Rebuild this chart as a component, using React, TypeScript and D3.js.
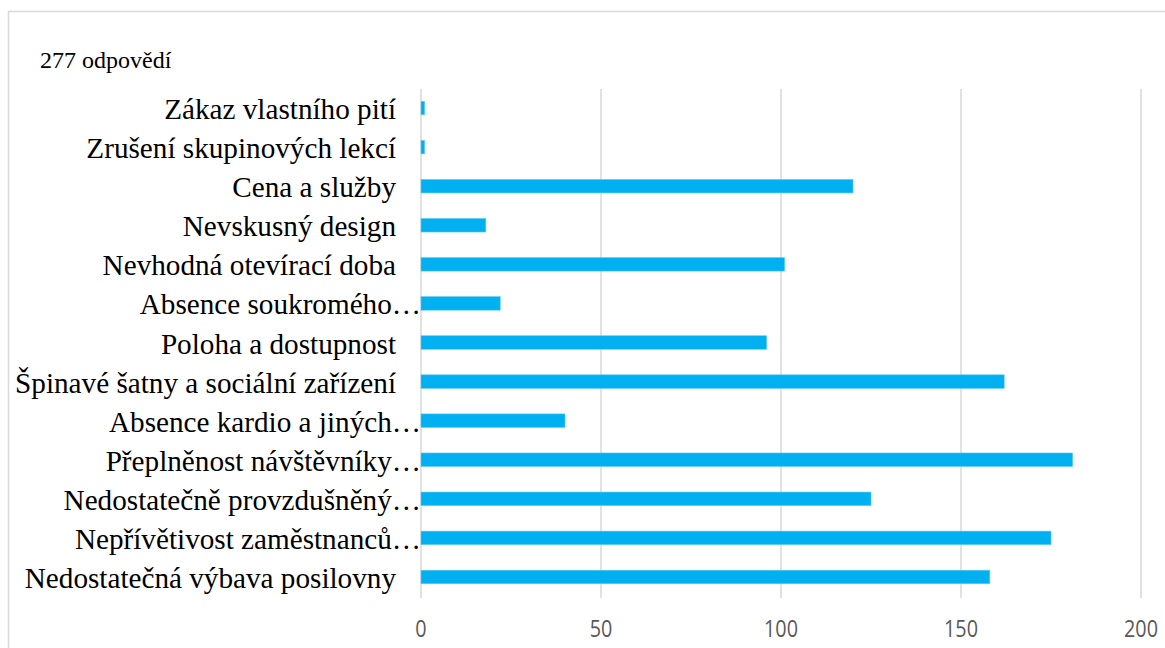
import React from "react";
import * as d3 from "d3";

const categories = [
  "Zákaz vlastního pití",
  "Zrušení skupinových lekcí",
  "Cena a služby",
  "Nevskusný design",
  "Nevhodná otevírací doba",
  "Absence soukromého…",
  "Poloha a dostupnost",
  "Špinavé šatny a sociální zařízení",
  "Absence kardio a jiných…",
  "Přeplněnost návštěvníky…",
  "Nedostatečně provzdušněný…",
  "Nepřívětivost zaměstnanců…",
  "Nedostatečná výbava posilovny",
];
const values = [1, 1, 120, 18, 101, 22, 96, 162, 40, 181, 125, 175, 158];
const xTicks = [0, 50, 100, 150, 200];
const subtitle = "277 odpovědí";

const W = 1165;
const H = 648;

export default function App() {
  const x = d3.scaleLinear().domain([0, 200]).range([421, 1141]);
  const y = d3.scaleBand<string>().domain(categories).range([88.5, 596.5]).paddingInner(0).paddingOuter(0);
  const barH = 13.5;
  return (
    <div style={{ position: "fixed", left: 0, top: 0, width: W, height: H, background: "#fff" }}>
      <svg width={W} height={H} style={{ display: "block" }}>
        <rect x={8.5} y={11.5} width={W + 20} height={H + 20} fill="#fff" stroke="#d9d9d9" strokeWidth={1.5} />
        <text x={40} y={68} fontFamily="'Liberation Serif', 'Times New Roman', serif" fontSize={24} fill="#000">
          {subtitle}
        </text>
        {xTicks.map((t) => (
          <line key={"g" + t} x1={x(t)} x2={x(t)} y1={89} y2={598} stroke="#d9d9d9" strokeWidth={1.5} />
        ))}
        {categories.map((c, i) => {
          const cy = (y(c) as number) + y.bandwidth() / 2;
          return (
            <rect
              key={"b" + c}
              x={x(0)}
              y={cy - barH / 2}
              width={x(values[i]) - x(0)}
              height={barH}
              fill="#00b0f0"
              stroke="#5cc8f2"
              strokeWidth={0.6}
            />
          );
        })}
        {categories.map((c) => {
          const cy = (y(c) as number) + y.bandwidth() / 2;
          const trunc = c.endsWith("…");
          return (
            <text
              key={"l" + c}
              x={trunc ? 421 : 396}
              y={cy + 11}
              textAnchor="end"
              fontFamily="'Liberation Serif', 'Times New Roman', serif"
              fontSize={29.2}
              fill="#000"
            >
              {c}
            </text>
          );
        })}
        {xTicks.map((t) => (
          <text
            key={"t" + t}
            transform={`translate(${x(t)},637) scale(0.86,1)`}
            textAnchor="middle"
            fontFamily="'Open Sans', 'Liberation Sans', sans-serif"
            fontSize={23}
            fill="#595959"
          >
            {t}
          </text>
        ))}
      </svg>
    </div>
  );
}
